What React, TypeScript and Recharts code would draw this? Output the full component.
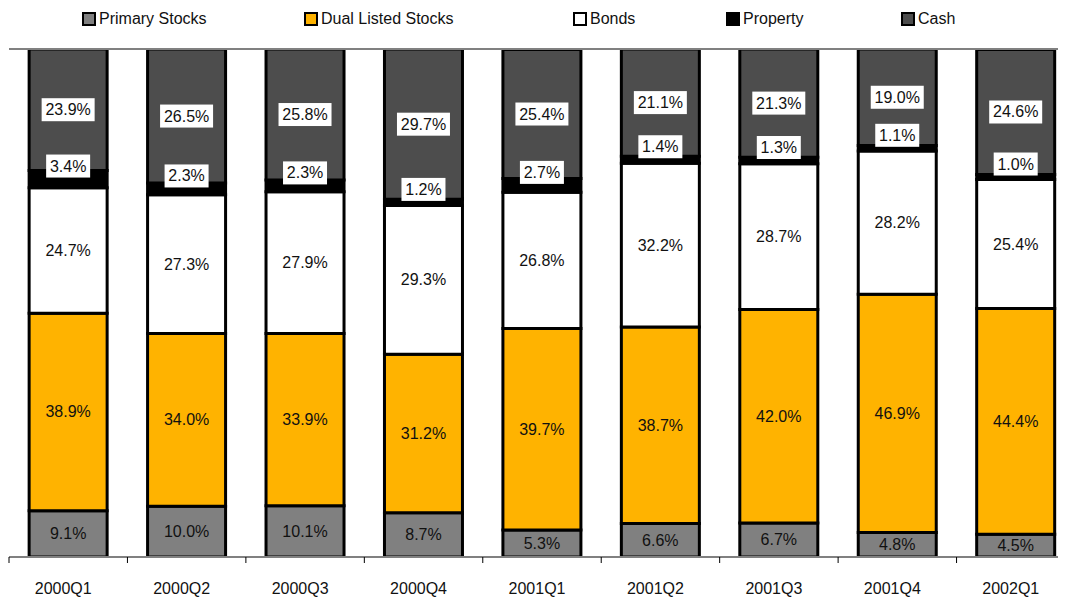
import React from 'react';
import { BarChart, Bar, XAxis, YAxis, CartesianGrid, Legend, LabelList, ReferenceLine } from 'recharts';

const categories = ['2000Q1', '2000Q2', '2000Q3', '2000Q4', '2001Q1', '2001Q2', '2001Q3', '2001Q4', '2002Q1'];
const primaryStocks = [9.1, 10.0, 10.1, 8.7, 5.3, 6.6, 6.7, 4.8, 4.5];
const dualListedStocks = [38.9, 34.0, 33.9, 31.2, 39.7, 38.7, 42.0, 46.9, 44.4];
const bonds = [24.7, 27.3, 27.9, 29.3, 26.8, 32.2, 28.7, 28.2, 25.4];
const property = [3.4, 2.3, 2.3, 1.2, 2.7, 1.4, 1.3, 1.1, 1.0];
const cash = [23.9, 26.5, 25.8, 29.7, 25.4, 21.1, 21.3, 19.0, 24.6];
const yTicks = [0, 10, 20, 30, 40, 50, 60, 70, 80, 90, 100];

const data = categories.map((c, i) => ({
  name: c,
  primary: primaryStocks[i],
  dual: dualListedStocks[i],
  bonds: bonds[i],
  property: property[i],
  cash: cash[i],
}));

const series = [
  { key: 'primary', name: 'Primary Stocks', color: '#808080', boxed: false },
  { key: 'dual', name: 'Dual Listed Stocks', color: '#FFB300', boxed: false },
  { key: 'bonds', name: 'Bonds', color: '#FFFFFF', boxed: false },
  { key: 'property', name: 'Property', color: '#000000', boxed: true },
  { key: 'cash', name: 'Cash', color: '#4D4D4D', boxed: true },
];

const CHART_W = 1070;
const MARGIN = { top: 41, right: 3, bottom: 0, left: 1 };
const PLOT_W = CHART_W - MARGIN.left - MARGIN.right;
const STEP = PLOT_W / categories.length;
const legendLeft = [74, 296, 565, 718, 893];
const FONT = 'Liberation Sans, Arial, Helvetica, sans-serif';

const makeLabel = (boxed: boolean, shift: number) => (props: any) => {
  const { x, y, width, height, value } = props;
  const cx = x + width / 2;
  const cy = y + height / 2 + shift;
  const txt = `${Number(value).toFixed(1)}%`;
  const w = txt.length * 9 + 8;
  return (
    <g>
      {boxed && <rect x={cx - w / 2} y={cy - 11.5} width={w} height={23} fill="#FFFFFF" />}
      <text x={cx} y={cy} dy={5.5} textAnchor="middle" fontSize={16} fontFamily={FONT} fill="#111111">
        {txt}
      </text>
    </g>
  );
};

const LegendContent = () => (
  <div style={{ position: 'relative', width: 1058, height: 30, fontFamily: FONT, fontSize: 16, color: '#111' }}>
    {series.map((s, i) => (
      <div key={s.key} style={{ position: 'absolute', left: legendLeft[i], top: 2, display: 'flex', alignItems: 'center', whiteSpace: 'nowrap' }}>
        <span style={{ display: 'inline-block', width: 10, height: 10, border: '2px solid #000', background: s.color, marginRight: 3 }} />
        <span>{s.name}</span>
      </div>
    ))}
  </div>
);

const CatTick = (props: any) => {
  const { x, y, payload, index } = props;
  const last = index === categories.length - 1;
  return (
    <g>
      <line x1={x - STEP / 2} x2={x - STEP / 2} y1={y} y2={y + 6} stroke="#000" strokeWidth={1} />
      {last && <line x1={x + STEP / 2} x2={x + STEP / 2} y1={y} y2={y + 6} stroke="#000" strokeWidth={1} />}
      <text x={x - 5} y={y} dy={37} textAnchor="middle" fontSize={16} fontFamily={FONT} fill="#111111">
        {payload.value}
      </text>
    </g>
  );
};

export default function App() {
  return (
    <div style={{ width: 1058, height: 589, overflow: 'hidden' }}>
      <BarChart
        width={CHART_W}
        height={589}
        data={data}
        margin={MARGIN}
        barCategoryGap="17%"
      >
        <CartesianGrid vertical={false} stroke="#B3B3B3" strokeWidth={1} />
        <XAxis
          dataKey="name"
          tick={<CatTick />}
          tickLine={false}
          tickSize={0}
          tickMargin={0}
          axisLine={{ stroke: '#808080', strokeWidth: 2 }}
          height={40}
          interval={0}
        />
        <YAxis
          domain={[0, 100]}
          ticks={yTicks}
          width={0}
          tick={false}
          tickLine={false}
          axisLine={{ stroke: '#808080', strokeWidth: 2 }}
          allowDataOverflow
        />
        <ReferenceLine y={100} stroke="#808080" strokeWidth={2} />
        <Legend
          layout="horizontal"
          verticalAlign="middle"
          align="center"
          wrapperStyle={{ top: 0, left: 0 }}
          content={<LegendContent />}
        />
        {series.map((s) => (
          <Bar
            key={s.key}
            dataKey={s.key}
            name={s.name}
            stackId="a"
            fill={s.color}
            stroke="#000000"
            strokeWidth={3}
            isAnimationActive={false}
          >
            <LabelList dataKey={s.key} content={makeLabel(s.boxed, s.key === 'property' ? -13 : 0)} />
          </Bar>
        ))}
      </BarChart>
    </div>
  );
}
